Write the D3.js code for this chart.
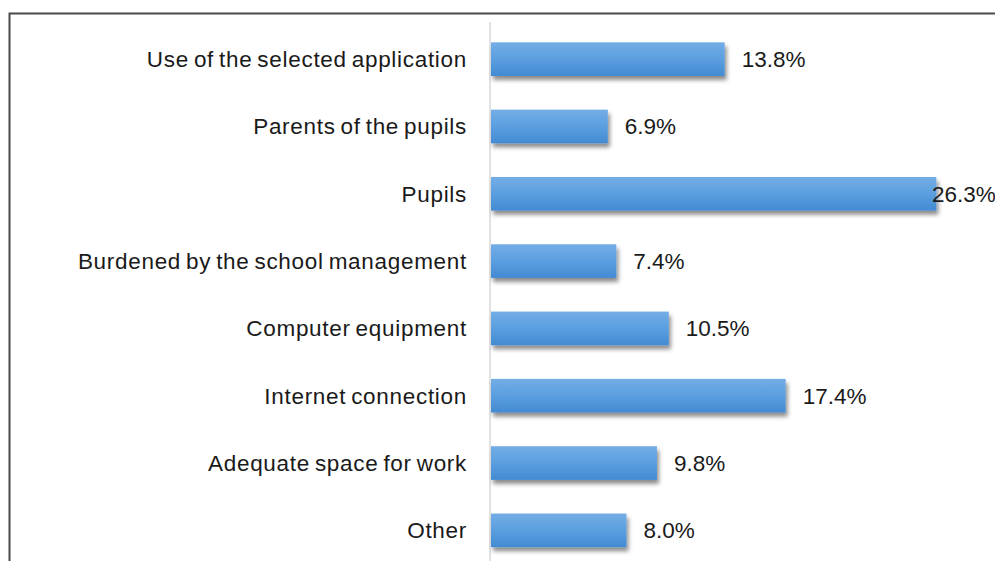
<html lang="en">
<head>
  <meta charset="UTF-8" />
  <title>Bar chart</title>
  <style>
    body, html { margin: 0; padding: 0; background: white; overflow: hidden; }
    svg { display: block; }
    .cat { font-family: "Liberation Sans", Arial, sans-serif; font-size: 22.5px; fill: #1a1a1a; word-spacing: -2px; letter-spacing: 0.7px; }
    .val { font-family: "Liberation Sans", Arial, sans-serif; font-size: 22.5px; fill: #1a1a1a; }
  </style>
</head>
<body>
  <div id="chart"></div>
  <script src="https://cdn.jsdelivr.net/npm/d3@7"></script>
  <script>
    const categories = [
      "Use of the selected application",
      "Parents of the pupils",
      "Pupils",
      "Burdened by the school management",
      "Computer equipment",
      "Internet connection",
      "Adequate space for work",
      "Other"
    ];
    const values = [13.8, 6.9, 26.3, 7.4, 10.5, 17.4, 9.8, 8.0];
    const valueLabels = ["13.8%", "6.9%", "26.3%", "7.4%", "10.5%", "17.4%", "9.8%", "8.0%"];

    const w = 995, h = 561;
    const svg = d3.select("#chart").append("svg").attr("width", w).attr("height", h);

    // gradient + shadow for the bars
    const defs = svg.append("defs");
    const grad = defs.append("linearGradient").attr("id", "barGrad")
      .attr("x1", 0).attr("y1", 0).attr("x2", 0).attr("y2", 1);
    grad.append("stop").attr("offset", "0%").attr("stop-color", "#74ade6");
    grad.append("stop").attr("offset", "50%").attr("stop-color", "#5b9fe0");
    grad.append("stop").attr("offset", "100%").attr("stop-color", "#428ad2");

    const shadow = defs.append("filter").attr("id", "shadow")
      .attr("x", "-5%").attr("y", "-20%").attr("width", "120%").attr("height", "160%");
    shadow.append("feDropShadow").attr("dx", 2).attr("dy", 4).attr("stdDeviation", 2)
      .attr("flood-color", "#000").attr("flood-opacity", 0.45);

    // chart frame
    svg.append("rect")
      .attr("x", 9.5).attr("y", 13.5)
      .attr("width", w + 20).attr("height", h + 20)
      .attr("fill", "none").attr("stroke", "#4a4a4a").attr("stroke-width", 2);

    const x = d3.scaleLinear().domain([0, 30]).range([491, 999]);
    const y = d3.scaleBand().domain(categories).range([25.5, 564])
      .paddingInner(0.5).paddingOuter(0.25);

    // vertical axis line
    svg.append("line")
      .attr("x1", 490).attr("x2", 490)
      .attr("y1", 22).attr("y2", h)
      .attr("stroke", "#d9d9d9").attr("stroke-width", 1.5);

    const rows = categories.map((c, i) => ({ cat: c, v: values[i], label: valueLabels[i] }));

    svg.append("g").selectAll("rect")
      .data(rows)
      .enter()
      .append("rect")
      .attr("x", x(0))
      .attr("y", d => y(d.cat))
      .attr("width", d => x(d.v) - x(0))
      .attr("height", y.bandwidth())
      .attr("fill", "url(#barGrad)")
      .attr("filter", "url(#shadow)");

    svg.append("g").selectAll("text")
      .data(rows)
      .enter()
      .append("text")
      .attr("class", "cat")
      .attr("x", 467)
      .attr("y", d => y(d.cat) + y.bandwidth() / 2)
      .attr("dy", "0.35em")
      .attr("text-anchor", "end")
      .text(d => d.cat);

    svg.append("g").selectAll("text")
      .data(rows)
      .enter()
      .append("text")
      .attr("class", "val")
      .attr("x", d => Math.min(x(d.v) + 17, w - 63))
      .attr("y", d => y(d.cat) + y.bandwidth() / 2)
      .attr("dy", "0.35em")
      .text(d => d.label);
  </script>
</body>
</html>
